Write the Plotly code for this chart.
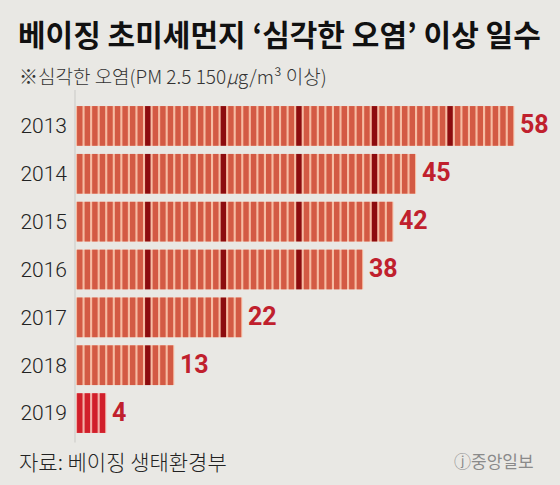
import plotly.graph_objects as go

years = ["2013", "2014", "2015", "2016", "2017", "2018", "2019"]
days = [58, 45, 42, 38, 22, 13, 4]

title_text = "베이징 초미세먼지 ‘심각한 오염’ 이상 일수"
subtitle_text = "※심각한 오염(PM 2.5 150<i>μ</i>g/m³ 이상)"
source_text = "자료: 베이징 생태환경부"
logo_text = "ⓙ중앙일보"

BG = "#e9e8e4"
UNIT = "#d35a44"
DARK = "#8c0c0f"
NEW = "#d11f2b"
GAP = "#f6bca3"
GAP_NEW = "#f3b0a8"
LABEL = "#c0202d"

W, H = 560, 485
L, R = 76, 0
TOP, BOT = 102, 437.5
unit_px = 7.557
xmax = (W - L - R) / unit_px


def py(p):
    return (BOT - p) / (BOT - TOP)


def px(p):
    return (p - L) / (W - L - R)


pos = list(range(len(years)))

fig = go.Figure()

# background strip (gap colour) per year
fig.add_trace(go.Bar(
    y=pos, x=days, base=[0] * len(days), orientation="h",
    marker=dict(color=[GAP_NEW if y == "2019" else GAP for y in years], line=dict(width=0)),
    width=[0.83] * len(days), hoverinfo="skip", showlegend=False,
))

# individual day units
uy, ux, ub, uc = [], [], [], []
for k, (y, d) in enumerate(zip(years, days)):
    for i in range(d):
        uy.append(k)
        ux.append(0.72)
        ub.append(i + 0.14)
        if y == "2019":
            uc.append(NEW)
        elif (i + 1) % 10 == 0:
            uc.append(DARK)
        else:
            uc.append(UNIT)

fig.add_trace(go.Bar(
    y=uy, x=ux, base=ub, orientation="h",
    marker=dict(color=uc, line=dict(width=0)),
    width=[0.83] * len(uy), hoverinfo="skip", showlegend=False,
))

annotations = []
for k, d in zip(pos, days):
    annotations.append(dict(
        x=d, y=k, xref="x", yref="y", text=str(d), showarrow=False,
        xanchor="left", xshift=4, yshift=1,
        font=dict(family="Roboto", size=25, color=LABEL, weight="bold"),
    ))

annotations += [
    dict(x=px(16), y=py(33), xref="paper", yref="paper", text=title_text,
         showarrow=False, xanchor="left", yanchor="middle",
         font=dict(family="Noto Sans CJK KR", size=30, color="#111111", weight="bold")),
    dict(x=px(17), y=py(75), xref="paper", yref="paper", text=subtitle_text,
         showarrow=False, xanchor="left", yanchor="middle",
         font=dict(family="Noto Sans CJK KR", size=19, color="#333333", weight=300)),
    dict(x=px(17), y=py(462), xref="paper", yref="paper", text=source_text,
         showarrow=False, xanchor="left", yanchor="middle",
         font=dict(family="Noto Sans CJK KR", size=21, color="#222222", weight=300)),
    dict(x=px(536), y=py(461), xref="paper", yref="paper", text=logo_text,
         showarrow=False, xanchor="right", yanchor="middle",
         font=dict(family="Noto Sans CJK KR", size=17, color="#8a8a8a")),
]

fig.add_shape(type="line", xref="paper", yref="paper",
              x0=px(75), x1=px(75), y0=py(90), y1=py(443),
              line=dict(color="#c9c9c6", width=1))

fig.update_layout(
    width=W, height=H,
    margin=dict(l=L, r=R, t=TOP, b=H - BOT),
    paper_bgcolor=BG, plot_bgcolor=BG,
    barmode="overlay",
    showlegend=False,
    annotations=annotations,
    xaxis=dict(range=[0, xmax], visible=False, fixedrange=True),
    yaxis=dict(range=[len(years) - 0.5, -0.5], tickmode="array", tickvals=pos, ticktext=years,
               showgrid=False, zeroline=False, showline=False,
               ticks="", ticklabelstandoff=8,
               tickfont=dict(family="Roboto", size=21, color="#222222", weight=300)),
)

fig.write_html("out.html")
